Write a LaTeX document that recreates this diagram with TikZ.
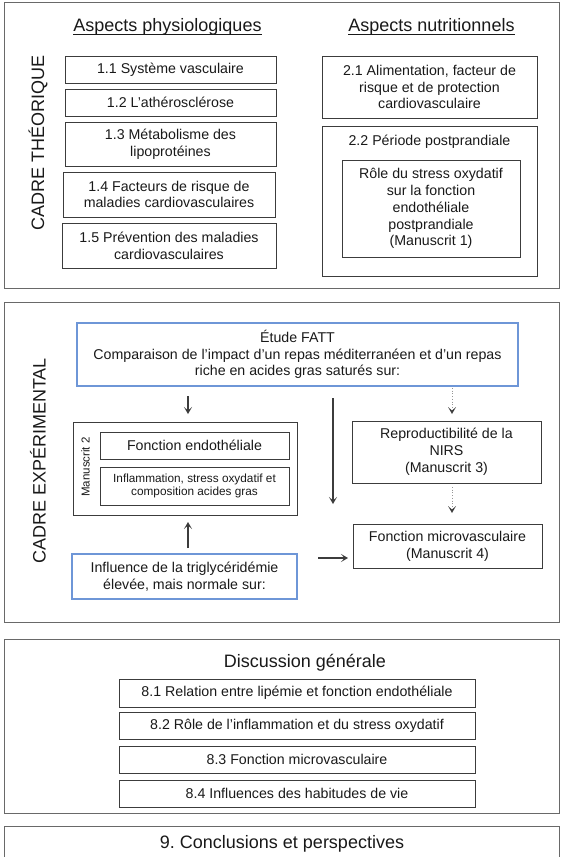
\documentclass[tikz,border=0pt]{standalone}
\usepackage{fontspec}
\setmainfont{Liberation Sans}
\frenchspacing
\usetikzlibrary{arrows.meta}
\definecolor{bluebox}{RGB}{110,150,215}
\definecolor{panelgray}{RGB}{105,105,105}
\definecolor{boxgray}{RGB}{60,60,60}
\definecolor{dotgray}{RGB}{150,150,150}
\definecolor{txt}{RGB}{25,25,25}
\begin{document}
\begin{tikzpicture}[x=1pt,y=-1pt,
  panel/.style={draw=panelgray,line width=1pt,rectangle,inner sep=0pt},
  box/.style={draw=boxgray,line width=1pt,rectangle,inner sep=0pt,align=center,
    font=\fontsize{14.2}{16.8}\selectfont,text=txt},
  smallbox/.style={box,font=\fontsize{11.8}{13.6}\selectfont},
  bbox/.style={box,draw=bluebox,line width=1.6pt},
  lbl/.style={inner sep=0pt,align=center,text=txt,font=\fontsize{14.2}{16.8}\selectfont},
  hdr/.style={inner sep=0pt,text=txt,font=\fontsize{18}{21}\selectfont},
  arr/.style={-{Stealth[length=7pt,width=8pt,inset=3.5pt]},line width=1.2pt,draw=boxgray},
  darr/.style={-{Stealth[length=7pt,width=8pt,inset=3.5pt,color=boxgray,line width=0pt]},line width=0.7pt,draw=dotgray,dotted}]
\useasboundingbox (0,0) rectangle (563,857);

% ---------- Panel 1 ----------
\node[panel,minimum width=555,minimum height=286] (p1) at (281.5,145) {};
\node[hdr] (h1) at (167.5,27) {Aspects physiologiques};
\node[hdr] (h2) at (431.5,27) {Aspects nutritionnels};
\draw[line width=0.9pt,txt] ([yshift=-2.8pt]h1.base west) -- ([yshift=-2.8pt]h1.base east);
\draw[line width=0.9pt,txt] ([yshift=-2.8pt]h2.base west) -- ([yshift=-2.8pt]h2.base east);
\node[hdr,rotate=90] (ct) at (38,143) {CADRE THÉORIQUE};

\node[box,minimum width=211,minimum height=27] (b11) at (170.5,69.5) {1.1 Système vasculaire};
\node[box,minimum width=211,minimum height=27] (b12) at (170.5,102.5) {1.2 L’athérosclérose};
\node[box,minimum width=211,minimum height=44] (b13) at (170.5,144) {1.3 Métabolisme des\\lipoprotéines};
\node[box,minimum width=212,minimum height=45] (b14) at (169,194.5) {1.4 Facteurs de risque de\\maladies cardiovasculaires};
\node[box,minimum width=214,minimum height=45] (b15) at (169,245.5) {1.5 Prévention des maladies\\cardiovasculaires};

\node[box,minimum width=215,minimum height=62] (b21) at (429.5,87) {2.1 Alimentation, facteur de\\risque et de protection\\cardiovasculaire};
\node[box,minimum width=215,minimum height=150] (b22) at (429.5,201) {};
\node[lbl] (b22t) at (429.5,142) {2.2 Période postprandiale};
\node[box,minimum width=178,minimum height=97] (b22i) at (431,208.5) {Rôle du stress oxydatif\\sur la fonction\\endothéliale\\postprandiale\\(Manuscrit 1)};

% ---------- Panel 2 ----------
\node[panel,minimum width=555,minimum height=320] (p2) at (281.5,462) {};
\node[hdr,rotate=90] (ce) at (38,461) {CADRE EXPÉRIMENTAL};

\node[bbox,minimum width=441,minimum height=63] (fatt) at (297.5,354.5)
  {Étude FATT\\Comparaison de l’impact d’un repas méditerranéen et d’un repas\\riche en acides gras saturés sur:};

\node[box,minimum width=224,minimum height=93] (m2) at (185,468.5) {};
\node[inner sep=0pt,rotate=90,text=txt,font=\fontsize{11.5}{13.6}\selectfont] (m2t) at (85.5,467) {Manuscrit 2};
\node[box,minimum width=189,minimum height=27] (fe) at (194.5,445.5) {Fonction endothéliale};
\node[smallbox,minimum width=189,minimum height=38] (infl) at (194.5,486) {Inflammation, stress oxydatif et\\composition acides gras};

\node[bbox,minimum width=225,minimum height=45] (infl2) at (184.5,576.5) {Influence de la triglycéridémie\\élevée, mais normale sur:};

\node[box,minimum width=189,minimum height=62] (repro) at (446.5,452) {Reproductibilité de la\\NIRS\\(Manuscrit 3)};
\node[box,minimum width=189,minimum height=44] (micro) at (447.5,546) {Fonction microvasculaire\\(Manuscrit 4)};

\coordinate (a1s) at (188,396);
\coordinate (a1e) at (188,414);
\coordinate (a2s) at (333,398);
\coordinate (a2e) at (333,504);
\coordinate (a3s) at (452,388);
\coordinate (a3e) at (452,414);
\coordinate (a4s) at (452,487);
\coordinate (a4e) at (452,513);
\coordinate (a5s) at (188,548);
\coordinate (a5e) at (188,522);
\coordinate (a6s) at (318,558);
\coordinate (a6e) at (348,558);

\draw[arr] (a1s) -- (a1e);
\draw[arr] (a2s) -- (a2e);
\draw[darr] (a3s) -- (a3e);
\draw[darr] (a4s) -- (a4e);
\draw[arr] (a5s) -- (a5e);
\draw[arr] (a6s) -- (a6e);

% ---------- Panel 3 ----------
\node[panel,minimum width=555,minimum height=174] (p3) at (281.5,726) {};
\node[hdr] (dg) at (305,663) {Discussion générale};
\node[box,minimum width=356,minimum height=28] (b81) at (297,693) {8.1 Relation entre lipémie et fonction endothéliale};
\node[box,minimum width=356,minimum height=27] (b82) at (297,725.5) {8.2 Rôle de l’inflammation et du stress oxydatif};
\node[box,minimum width=356,minimum height=27] (b83) at (297,759.5) {8.3 Fonction microvasculaire};
\node[box,minimum width=356,minimum height=27] (b84) at (297,793.5) {8.4 Influences des habitudes de vie};

% ---------- Panel 4 ----------
\node[panel,minimum width=555,minimum height=50,anchor=north] (p4) at (281.5,826) {};
\node[hdr] (cc) at (282,843.5) {9. Conclusions et perspectives};
\end{tikzpicture}
\end{document}
